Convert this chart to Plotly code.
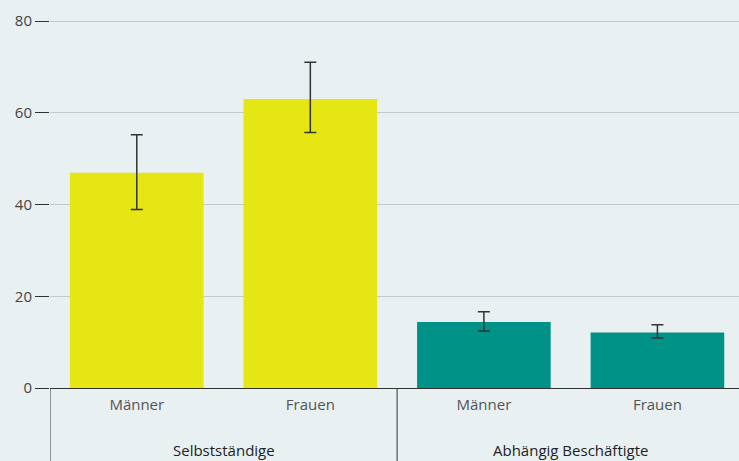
import plotly.graph_objects as go

groups = ["Selbstständige", "Selbstständige", "Abhängig Beschäftigte", "Abhängig Beschäftigte"]
cats = ["Männer", "Frauen", "Männer", "Frauen"]
values = [46.9, 63.0, 14.4, 12.1]
err_plus = [8.3, 8.0, 2.2, 1.7]
err_minus = [8.0, 7.3, 2.0, 1.2]
colors = ["#e6e614", "#e6e614", "#009286", "#009286"]
y_ticks = [0, 20, 40, 60, 80]

xs = list(range(len(cats)))

fig = go.Figure(go.Bar(
    x=xs, y=values,
    marker=dict(color=colors, line=dict(width=0)),
    width=0.77,
    error_y=dict(type="data", symmetric=False, array=err_plus, arrayminus=err_minus,
                 color="#333333", thickness=1.5, width=6),
    hoverinfo="skip",
))

group_names = []
for g in groups:
    if g not in group_names:
        group_names.append(g)
for g in group_names:
    idx = [i for i, gg in enumerate(groups) if gg == g]
    center = sum(idx) / len(idx)
    fig.add_annotation(x=center, y=0, xref="x", yref="paper", text=g,
                       showarrow=False, yanchor="middle", yshift=-62,
                       font=dict(size=15, color="#222222"))
    left = min(idx) - 0.5
    fig.add_shape(type="line", x0=left, x1=left, xref="x", y0=0, y1=-0.25, yref="paper",
                  line=dict(color="#333333", width=1))

fig.update_layout(
    width=739, height=461,
    margin=dict(l=50, r=0, t=19, b=73),
    paper_bgcolor="#e8f0f2", plot_bgcolor="#e8f0f2",
    font=dict(family="Open Sans", size=15, color="#555555"),
    showlegend=False,
)
fig.update_xaxes(
    range=[-0.5, 3.47], tickvals=xs, ticktext=cats,
    showline=True, linecolor="#333333", linewidth=1,
    showgrid=False, zeroline=False,
    tickfont=dict(size=15, color="#555555"),
    ticks="outside", ticklen=3, tickcolor="rgba(0,0,0,0)",
)
fig.update_yaxes(
    range=[0, 80.44], tickvals=y_ticks,
    showgrid=True, gridcolor="#c4c8ca", gridwidth=1,
    ticks="outside", ticklen=14, tickcolor="#333333", tickwidth=1,
    tickfont=dict(size=15, color="#444444"),
    zeroline=False, showline=False,
)

fig.write_html("out.html", config={"displayModeBar": False})
with open("out.html", encoding="utf-8") as f:
    html = f.read()
html = html.replace("<head>", "<head><style>html,body{margin:0;padding:0;overflow:hidden;}</style>", 1)
with open("out.html", "w", encoding="utf-8") as f:
    f.write(html)
